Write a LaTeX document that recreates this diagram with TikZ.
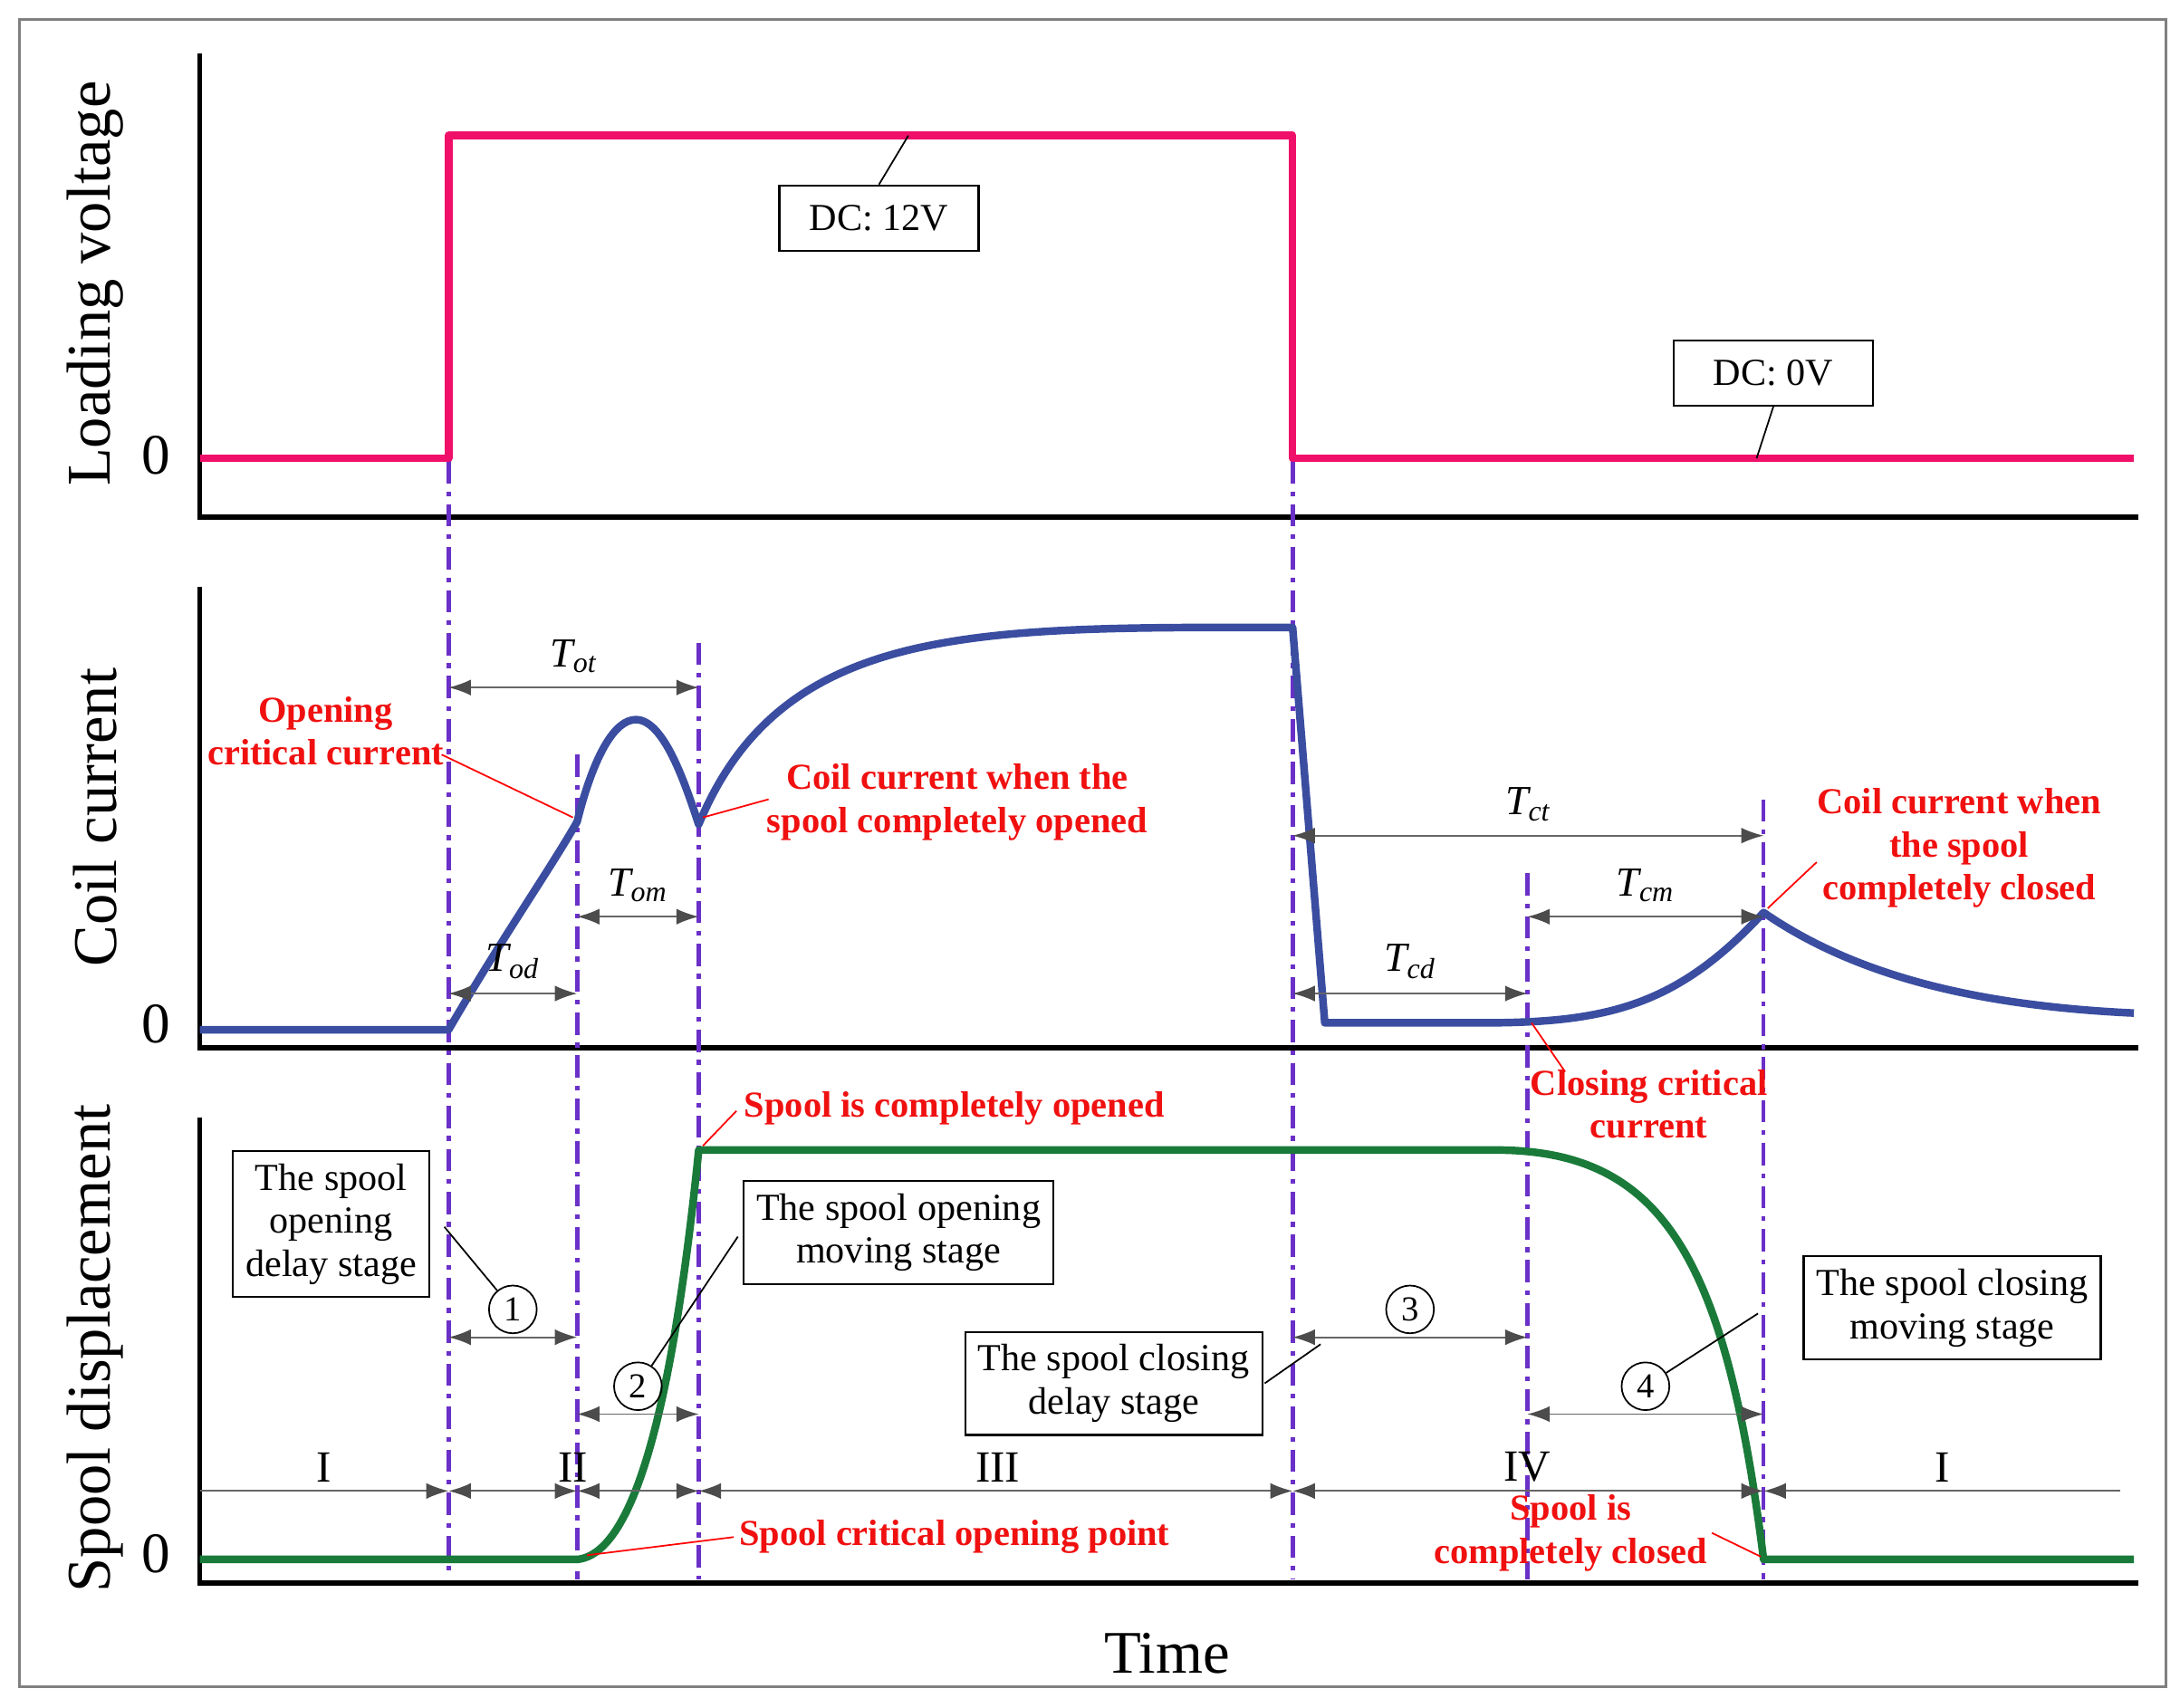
\documentclass[tikz,border=0pt]{standalone}
\usepackage{fontspec}
\setmainfont{Liberation Serif}
\usetikzlibrary{arrows.meta}
\definecolor{pinkv}{HTML}{F0106A}
\definecolor{bluec}{HTML}{3A4DA0}
\definecolor{greens}{HTML}{1A7A3A}
\definecolor{purp}{HTML}{6A30C8}
\definecolor{redt}{HTML}{F01010}
\begin{document}
\begin{tikzpicture}[x=0.01543cm,y=-0.01543cm,
 ax/.style={line width=1.6pt},
 sig/.style={line width=2.4pt,line join=round},
 vl/.style={purp,line width=1.3pt,dash pattern=on 7pt off 2.5pt on 1.5pt off 2.5pt},
 dimbase/.style={gray!80!black,line width=0.5pt},
 dim/.style={dimbase,{Latex[black!70,length=7pt,width=5pt]}-{Latex[black!70,length=7pt,width=5pt]}},
 dimr/.style={dimbase,-{Latex[black!70,length=7pt,width=5pt]}},
 diml/.style={dimbase,{Latex[black!70,length=7pt,width=5pt]}-},
 lead/.style={black,line width=0.5pt},
 rlead/.style={red,line width=0.5pt},
 bx/.style={draw,line width=0.6pt,fill=white,align=center,font=\fontsize{12}{13.5}\selectfont,inner sep=4pt},
 rl/.style={redt,font=\bfseries\fontsize{11.5}{13.5}\selectfont,align=center},
 tl/.style={black,font=\itshape\fontsize{13}{14}\selectfont},
 axl/.style={font=\fontsize{19.5}{20}\selectfont,rotate=90},
 cn/.style={black,circle,draw,inner sep=0.5pt,minimum size=15pt,font=\fontsize{11}{12}\selectfont}]
\useasboundingbox (0,0) rectangle (1560,1222);
\draw[gray,line width=0.8pt] (14,14) rectangle (1550,1207);
% axes
\draw[ax] (143,38) -- (143,370) -- (1530,370);
\draw[ax] (143,420) -- (143,750) -- (1530,750);
\draw[ax] (143,800) -- (143,1133) -- (1530,1133);
\node[axl] (la) at (68,203) {Loading voltage};
\node[axl] (lb) at (68,585) {Coil current};
\node[axl] (lc) at (68,965) {Spool displacement};
\node[font=\fontsize{18}{20}\selectfont] (z1) at (112,326) {0};
\node[font=\fontsize{18}{20}\selectfont] (z2) at (112,733) {0};
\node[font=\fontsize{18}{20}\selectfont] (z3) at (112,1112) {0};
\node[font=\fontsize{19}{20}\selectfont] (tm) at (835,1183) {Time};
% verticals
\draw[vl] (321,330) -- (321,1125);
\draw[vl] (413,540) -- (413,1130);
\draw[vl] (500,460) -- (500,1130);
\draw[vl] (925,330) -- (925,1130);
\draw[vl] (1093,625) -- (1093,1130);
\draw[vl] (1262,572) -- (1262,1130);
% signals
\draw[sig,pinkv] (143,328) -- (321,328) -- (321,97) -- (925,97) -- (925,328) -- (1527,328);
\draw[sig,bluec] (143,737) -- (321,737) .. controls (360,670) and (395,620) .. (413,588)
  .. controls (425,540) and (440,515) .. (455,515) .. controls (475,515) and (490,560) .. (500,590)
  .. controls (560,445) and (700,449) .. (925,449) -- (948,732) -- (1060,732)
  .. controls (1150,732) and (1200,720) .. (1262,653) .. controls (1330,700) and (1420,720) .. (1527,725);
\draw[sig,greens] (143,1116) -- (413,1116) .. controls (455,1112) and (482,1000) .. (500,823) -- (1070,823)
  .. controls (1190,823) and (1235,900) .. (1262,1116) -- (1527,1116);
% voltage boxes
\draw[lead] (629,132) -- (650,97);
\node[bx,minimum width=2.2cm,minimum height=0.72cm] (dc12) at (629,156) {DC: 12V};
\draw[lead] (1269,291) -- (1257,328);
\node[bx,minimum width=2.2cm,minimum height=0.72cm] (dc0) at (1269,267) {DC: 0V};
% time dims
\draw[dim] (321,492) -- node[tl,above=1pt] {T\textsubscript{ot}} (500,492);
\draw[dim] (321,711) -- node[tl,above=1pt] {T\textsubscript{od}} (413,711);
\draw[dim] (413,656) -- node[tl,above=1pt] {T\textsubscript{om}} (500,656);
\draw[dim] (925,598) -- node[tl,above=1pt] {T\textsubscript{ct}} (1262,598);
\draw[dim] (925,711) -- node[tl,above=1pt] {T\textsubscript{cd}} (1093,711);
\draw[dim] (1093,656) -- node[tl,above=1pt] {T\textsubscript{cm}} (1262,656);
% stage dims
\draw[dim] (321,957) -- node[cn,above=1pt] (c1) {1} (413,957);
\draw[dim] (413,1012) -- node[cn,above=1pt] (c2) {2} (500,1012);
\draw[dim] (925,957) -- node[cn,above=1pt] (c3) {3} (1093,957);
\draw[dim] (1093,1012) -- node[cn,above=1pt] (c4) {4} (1262,1012);
% region line
\draw[dimr] (143,1067) -- (321,1067);
\draw[dim] (321,1067) -- (413,1067);
\draw[dim] (413,1067) -- (500,1067);
\draw[dim] (500,1067) -- (925,1067);
\draw[dim] (925,1067) -- (1262,1067);
\draw[diml] (1262,1067) -- (1517,1067);
\foreach \x/\t in {232/I,410/II,714/III,1093/IV,1390/I}
  \node[font=\fontsize{14}{14}\selectfont] at (\x,1050) {\t};
% red labels
\node[rl] (r1) at (233,523) {Opening\\critical current};
\draw[rlead] (316,540) -- (410,585);
\node[rl] (r2) at (685,574) {Coil current when the\\spool completely opened};
\draw[rlead] (550,572) -- (503,585);
\node[rl] (r3) at (1402,607) {Coil current when\\the spool\\completely closed};
\draw[rlead] (1300,617) -- (1265,650);
\node[rl] (r4) at (1180,790) {Closing critical\\current};
\draw[rlead] (1120,767) -- (1096,732);
\node[rl] (r5) at (683,793) {Spool is completely opened};
\draw[rlead] (527,795) -- (503,820);
\node[rl] (r6) at (683,1100) {Spool critical opening point};
\draw[rlead] (525,1100) -- (420,1113);
\node[rl] (r7) at (1124,1097) {Spool is\\completely closed};
\draw[rlead] (1225,1097) -- (1260,1114);
% stage boxes
\draw[lead] (318,878) -- (c1);
\node[bx] (b1) at (237,876) {The spool\\opening\\delay stage};
\draw[lead] (528,885) -- (c2);
\node[bx] (b2) at (643,882) {The spool opening\\moving stage};
\draw[lead] (905,990) -- (945,962);
\node[bx] (b3) at (797,990) {The spool closing\\delay stage};
\draw[lead] (1258,940) -- (c4);
\node[bx] (b4) at (1397,936) {The spool closing\\moving stage};
\end{tikzpicture}
\end{document}
